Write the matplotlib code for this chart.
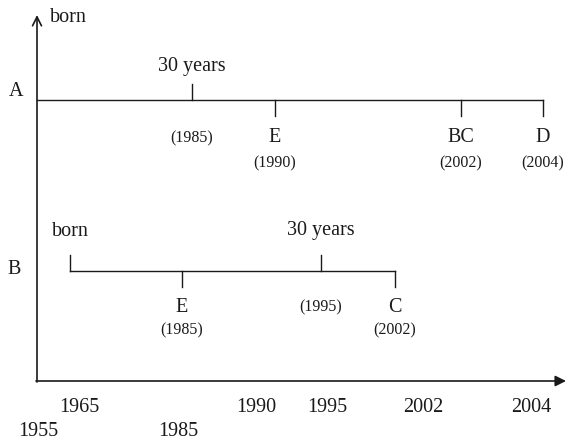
import matplotlib.pyplot as plt

plt.rcParams['font.family'] = ['Liberation Serif', 'DejaVu Serif']

# diagram drawn in pixel-like units (x right, y down)
W, H = 582, 441

# timeline A
a_y = 100
a_start, a_end = 37, 543
a_tick_x = [192, 275, 461, 543]
a_tick_dir = [-1, 1, 1, 1]          # -1 up, 1 down
a_top = ['30 years', '', '', '']
a_mid = ['(1985)', 'E', 'BC', 'D']
a_low = ['', '(1990)', '(2002)', '(2004)']

# timeline B
b_y = 271
b_start, b_end = 70, 395
b_tick_x = [70, 182, 321, 395]
b_tick_dir = [-1, 1, -1, 1]
b_top = ['born', '', '30 years', '']
b_mid = ['', 'E', '(1995)', 'C']
b_low = ['', '(1985)', '', '(2002)']

# bottom year labels
years_row1 = ['1965', '1990', '1995', '2002', '2004']
years_row1_x = [79, 256, 327, 423, 531]
years_row2 = ['1955', '1985']
years_row2_x = [38, 178]

fig = plt.figure(figsize=(W / 100, H / 100), dpi=100)
ax = fig.add_axes([0, 0, 1, 1])
ax.set_xlim(0, W)
ax.set_ylim(H, 0)
ax.axis('off')

big = 14.5
small = 11.5
col = '#1a1a1a'

# axes with arrows
ax.annotate('', xy=(37, 15), xytext=(37, 382),
            arrowprops=dict(arrowstyle='->', lw=1.2, color=col,
                            mutation_scale=16, shrinkA=0, shrinkB=0))
ax.annotate('', xy=(566, 381), xytext=(36, 381),
            arrowprops=dict(arrowstyle='-|>', lw=1.2, color=col,
                            mutation_scale=16, shrinkA=0, shrinkB=0))
ax.text(50, 17, 'born', fontsize=big, ha='left', va='center', color=col)


def timeline(y, x0, x1, tx, td, top, mid, low, name, name_x, offs):
    top_off, mid_off, low_off, name_off = offs
    ax.plot([x0, x1], [y, y], color=col, lw=1.0)
    for x, d, t, m, l in zip(tx, td, top, mid, low):
        ax.plot([x, x], [y, y + 16 * d], color=col, lw=1.0)
        if t:
            ax.text(x, y + top_off, t, fontsize=big, ha='center', va='center', color=col)
        if m:
            fs = small if m.startswith('(') else big
            ax.text(x, y + mid_off, m, fontsize=fs, ha='center', va='center', color=col)
        if l:
            ax.text(x, y + low_off, l, fontsize=small, ha='center', va='center', color=col)
    ax.text(name_x, y + name_off, name, fontsize=big, ha='center', va='center', color=col)


timeline(a_y, a_start, a_end, a_tick_x, a_tick_dir, a_top, a_mid, a_low,
         'A', 16, (-34, 38, 63, -8))
timeline(b_y, b_start, b_end, b_tick_x, b_tick_dir, b_top, b_mid, b_low,
         'B', 14, (-40, 36, 59, -1))

for lab, x in zip(years_row1, years_row1_x):
    ax.text(x, 408, lab, fontsize=big, ha='center', va='center', color=col)
for lab, x in zip(years_row2, years_row2_x):
    ax.text(x, 432, lab, fontsize=big, ha='center', va='center', color=col)

fig.savefig('out.png', dpi=100)
